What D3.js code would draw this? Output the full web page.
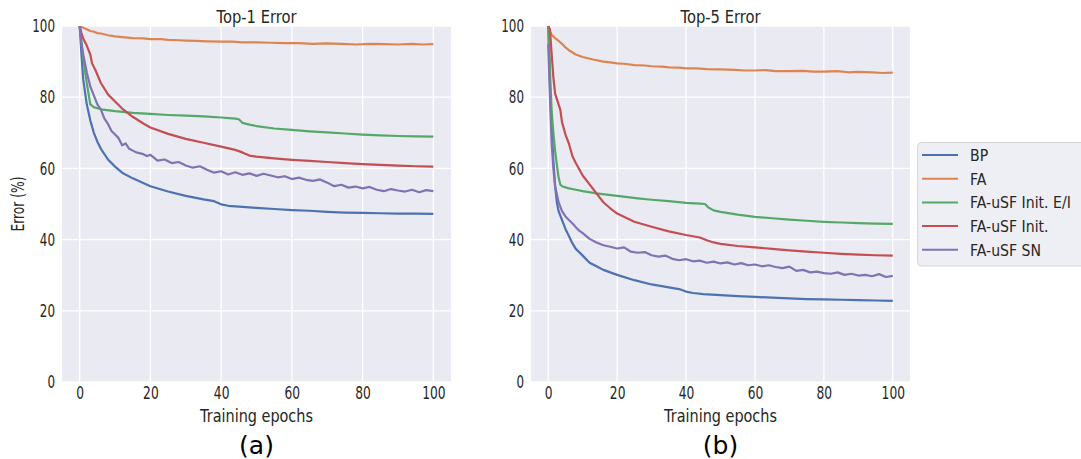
<!DOCTYPE html>
<html>
<head>
<meta charset="utf-8">
<script src="https://cdn.jsdelivr.net/npm/d3@7"></script>
<style>
  body { margin: 0; background: #fff; }
  svg { display: block; }
  text { font-family: "DejaVu Sans", sans-serif; fill: #262626; }
</style>
</head>
<body>
<svg id="chart" width="1081" height="459"></svg>
<script>
// series names and colours (seaborn "deep")
const seriesNames = ["BP", "FA", "FA-uSF Init. E/I", "FA-uSF Init.", "FA-uSF SN"];
const seriesColors = ["#4c72b0", "#dd8452", "#55a868", "#c44e52", "#8172b3"];
const tickValues = [0, 20, 40, 60, 80, 100];

// (a) Top-1 error, [epoch, error %]
const top1BP = [[0,100],[0.5,92],[1,85],[2,78],[3,73.5],[4,70],[5,67.5],[6,65.5],[8,62.5],[10,60.5],[12,58.8],[15,57.2],[20,55],[25,53.5],[30,52.3],[35,51.3],[38,50.8],[40,49.9],[42,49.5],[46,49.2],[50,48.9],[55,48.6],[60,48.3],[65,48.1],[70,47.8],[75,47.6],[80,47.5],[85,47.4],[90,47.3],[95,47.3],[100,47.2]];
const top1FA = [[0,100],[1,99.5],[2,99.1],[3,98.6],[4,98.4],[5,98.0],[6,97.9],[8,97.4],[10,97.1],[12,96.9],[15,96.6],[18,96.5],[20,96.3],[23,96.3],[25,96.1],[28,96.0],[30,95.9],[33,95.8],[36,95.7],[40,95.6],[43,95.6],[46,95.4],[50,95.4],[54,95.3],[58,95.2],[62,95.2],[66,95.0],[70,95.1],[74,95.0],[78,94.8],[82,95.0],[86,94.9],[90,94.8],[94,95.0],[97,94.8],[100,94.9]];
const top1EI = [[0,100],[1,91],[2,84],[3,78],[4,77.2],[6,76.6],[10,76.1],[15,75.6],[20,75.3],[25,75.0],[30,74.8],[35,74.6],[40,74.3],[44,74.0],[45,73.8],[46,72.8],[48,72.3],[50,71.9],[55,71.2],[60,70.8],[65,70.4],[70,70.1],[75,69.8],[80,69.5],[85,69.3],[90,69.1],[95,69.0],[100,68.9]];
const top1Init = [[0,100],[0.5,98],[1,96.5],[2,94.5],[3,92],[3.5,89.5],[4.5,87.5],[6,84],[8,80.8],[10,78.8],[12,76.8],[15,74.5],[18,72.6],[20,71.5],[25,69.7],[30,68.3],[35,67.2],[40,66.1],[44,65.2],[46,64.5],[48,63.6],[50,63.3],[55,62.8],[60,62.4],[65,62.1],[70,61.8],[75,61.5],[80,61.2],[85,61.0],[90,60.8],[95,60.6],[100,60.5]];
const top1SN = [[0,100],[0.5,95],[1,92],[2,87],[3,83],[4,80.5],[5,78],[6,76.5],[7,74],[8,72.5],[9,70.5],[10,69.5],[11,68.5],[12,66.5],[13,67],[14,65.5],[16,64.5],[18,64],[19,63.5],[20,63.8],[21,63],[22,62.2],[24,62.5],[26,61.5],[28,61.8],[30,60.8],[32,60.2],[34,60.6],[36,59.6],[38,58.8],[40,59.2],[42,58.3],[44,58.9],[46,58.2],[48,58.6],[50,57.9],[52,58.5],[54,58.0],[56,57.5],[58,57.8],[60,57.0],[62,57.4],[64,56.8],[66,56.5],[68,56.9],[70,56.0],[72,55.0],[74,55.4],[76,54.6],[78,54.9],[80,54.4],[82,54.8],[84,54.0],[86,53.6],[88,54.2],[90,53.8],[92,53.5],[94,54.0],[96,53.3],[98,53.9],[100,53.6]];

// (b) Top-5 error, [epoch, error %]
const top5BP = [[0,100],[0.3,90],[0.6,80],[1,72],[1.5,62],[2,55],[2.5,50.5],[3,48],[4,45.5],[5,43],[6,41],[7,39],[8,37.4],[10,35.5],[12,33.5],[14,32.5],[16,31.5],[20,30.1],[25,28.6],[30,27.4],[35,26.6],[38,26.1],[40,25.4],[42,25.0],[45,24.7],[50,24.4],[55,24.1],[60,23.9],[65,23.7],[70,23.5],[75,23.3],[80,23.2],[85,23.1],[90,23.0],[95,22.9],[100,22.8]];
const top5FA = [[0,100],[0.5,98.5],[1,97.5],[2,96.6],[3,95.8],[4,95],[5,94],[6,93.2],[8,92],[10,91.3],[13,90.6],[16,90],[18,89.8],[20,89.5],[22,89.4],[25,89.0],[28,88.9],[30,88.7],[33,88.6],[35,88.4],[38,88.3],[40,88.1],[43,88.1],[46,87.9],[50,87.8],[54,87.7],[57,87.5],[60,87.5],[63,87.6],[66,87.3],[70,87.3],[74,87.4],[77,87.2],[80,87.2],[84,87.3],[87,87.0],[90,87.1],[94,87.0],[97,86.8],[100,86.9]];
const top5EI = [[0,100],[0.3,94],[0.6,85],[1,76],[1.5,70],[2,65],[2.5,61],[3,57.5],[3.5,55.5],[4,55],[6,54.4],[8,54],[10,53.6],[14,53],[20,52.3],[26,51.6],[30,51.2],[35,50.8],[40,50.3],[44,50.1],[45.5,50.0],[46.5,49.0],[48,48.2],[50,47.8],[55,47.0],[60,46.4],[65,46.0],[70,45.6],[75,45.3],[80,45.0],[85,44.8],[90,44.6],[95,44.5],[100,44.4]];
const top5Init = [[0,100],[0.5,99],[1,92],[1.5,85.5],[2,81],[3,78],[3.5,76.5],[4,73],[5,69.5],[6,67],[7,63.5],[8,61.5],[10,58],[12,55.5],[14,53],[16,50.5],[18,48.8],[20,47.3],[25,45],[30,43.6],[35,42.3],[40,41.3],[44,40.6],[46,39.8],[48,39.2],[50,38.8],[55,38.2],[60,37.8],[65,37.4],[70,37.0],[75,36.6],[80,36.3],[85,36.0],[90,35.8],[95,35.6],[100,35.5]];
const top5SN = [[0,95],[0.5,80],[1,67],[1.5,60],[2,55],[3,50.5],[4,48],[5,46.5],[6,45.5],[7,44.6],[8,43.5],[9,42.5],[10,41.8],[12,40.2],[14,39.2],[16,38.4],[18,38.0],[20,37.5],[22,37.8],[24,36.6],[26,36.3],[28,36.5],[30,35.6],[32,35.2],[34,35.5],[36,34.6],[38,34.2],[40,34.5],[42,33.9],[44,34.1],[46,33.5],[48,33.8],[50,33.3],[52,33.6],[54,33.0],[56,33.4],[58,32.8],[60,33.0],[62,32.5],[64,32.8],[66,32.3],[68,32.0],[70,32.4],[72,31.2],[74,31.5],[76,30.8],[78,31.0],[80,30.6],[82,30.4],[84,30.8],[86,30.1],[88,30.4],[90,29.9],[92,30.1],[94,29.7],[96,30.3],[98,29.5],[100,29.8]];

const panels = [
  { title: "Top-1 Error", label: "(a)", left: 62, right: 451, ylabel: true, series: [top1BP, top1FA, top1EI, top1Init, top1SN] },
  { title: "Top-5 Error", label: "(b)", left: 531, right: 910, ylabel: false, series: [top5BP, top5FA, top5EI, top5Init, top5SN] }
];
const plotTop = 26, plotBottom = 382;

const svg = d3.select("#chart");

// squeezed text, like the reference's narrow font
function label(g, x, y, str, size, sx, anchor, rotate) {
  return g.append("text")
    .attr("transform", `translate(${x},${y})` + (rotate ? ` rotate(${rotate})` : "") + ` scale(${sx},1)`)
    .attr("text-anchor", anchor || "middle")
    .style("font-size", size + "px")
    .text(str);
}

panels.forEach((p, pi) => {
  const x = d3.scaleLinear().domain([-5, 105]).range([p.left, p.right]);
  const y = d3.scaleLinear().domain([0, 100]).range([plotBottom, plotTop]);
  const g = svg.append("g");

  g.append("rect")
    .attr("x", p.left).attr("y", plotTop)
    .attr("width", p.right - p.left).attr("height", plotBottom - plotTop)
    .attr("fill", "#eaeaf2");

  // grid
  g.selectAll(".gx").data(tickValues).join("line")
    .attr("x1", d => x(d)).attr("x2", d => x(d))
    .attr("y1", plotTop).attr("y2", plotBottom)
    .attr("stroke", "#fff").attr("stroke-width", 1.3);
  g.selectAll(".gy").data(tickValues).join("line")
    .attr("x1", p.left).attr("x2", p.right)
    .attr("y1", d => y(d)).attr("y2", d => y(d))
    .attr("stroke", "#fff").attr("stroke-width", 1.3);

  // axes
  const xa = g.append("g").attr("transform", `translate(0,${plotBottom})`)
    .call(d3.axisBottom(x).tickValues(tickValues).tickSize(0).tickPadding(5));
  const ya = g.append("g").attr("transform", `translate(${p.left},0)`)
    .call(d3.axisLeft(y).tickValues(tickValues).tickSize(0).tickPadding(7));
  [xa, ya].forEach(a => {
    a.select(".domain").remove();
    a.selectAll("text")
      .attr("fill", "#262626")
      .style("font-family", '"DejaVu Sans", sans-serif')
      .style("font-size", "17.5px");
  });
  xa.selectAll("text").attr("transform", "scale(0.7,1)");
  ya.selectAll("text").attr("x", -7 / 0.68).attr("transform", "scale(0.68,1)");

  // lines
  const clipId = "clip" + pi;
  g.append("clipPath").attr("id", clipId).append("rect")
    .attr("x", p.left).attr("y", plotTop)
    .attr("width", p.right - p.left).attr("height", plotBottom - plotTop);
  const line = d3.line().x(d => x(d[0])).y(d => y(d[1]));
  g.append("g").attr("clip-path", `url(#${clipId})`)
    .selectAll("path").data(p.series).join("path")
    .attr("d", line)
    .attr("fill", "none")
    .attr("stroke", (d, i) => seriesColors[i])
    .attr("stroke-width", 2.2)
    .attr("stroke-linejoin", "round");

  const cx = (p.left + p.right) / 2;
  label(g, cx, 22.5, p.title, 18, 0.82);
  label(g, cx, 421.5, "Training epochs", 18.5, 0.78);
  label(g, cx, 454, p.label, 25, 1).style("fill", "#000");
  if (p.ylabel) label(g, 24, 204, "Error (%)", 18, 0.68, "middle", -90);
});

// legend
const lg = svg.append("g");
lg.append("rect")
  .attr("x", 917.5).attr("y", 142.5).attr("width", 175).attr("height", 123.5)
  .attr("rx", 4).attr("fill", "#eeeef5").attr("stroke", "#d6d6d6");
seriesNames.forEach((name, i) => {
  const yy = 155 + i * 23.7;
  lg.append("line")
    .attr("x1", 922).attr("x2", 958).attr("y1", yy).attr("y2", yy)
    .attr("stroke", seriesColors[i]).attr("stroke-width", 2);
  label(lg, 970, yy + 5.8, name, 16, 0.88, "start");
});
</script>
</body>
</html>
